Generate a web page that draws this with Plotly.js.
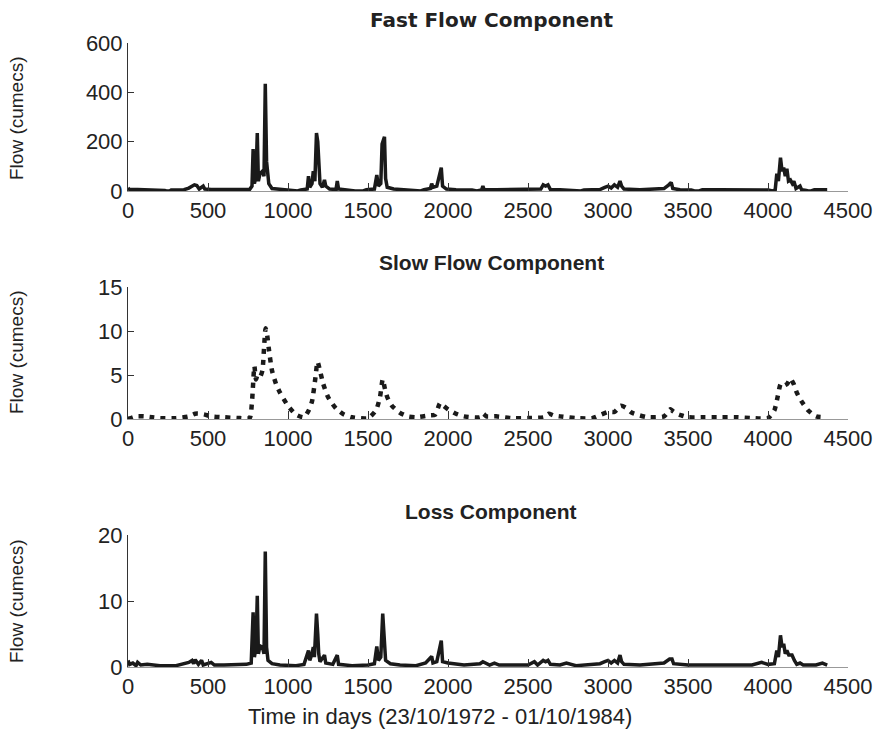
<!DOCTYPE html>
<html>
<head>
<meta charset="utf-8">
<script src="https://cdn.plot.ly/plotly-3.0.1.min.js"></script>
<style>html,body{margin:0;padding:0;background:#fff;}#chart{width:878px;height:732px;}</style>
</head>
<body>
<div id="chart"></div>
<script>
// ---- data ----
const fastDays = [0,10,60,120,200,230,240,260,270,350,380,400,415,430,445,470,480,520,600,700,760,775,782,790,800,808,815,825,840,850,858,866,872,880,900,950,1000,1030,1060,1080,1120,1128,1136,1150,1158,1168,1178,1186,1192,1200,1215,1228,1236,1260,1300,1308,1316,1350,1400,1420,1470,1490,1540,1555,1565,1580,1588,1596,1603,1610,1620,1660,1720,1780,1800,1830,1850,1890,1898,1906,1930,1958,1966,1990,2050,2150,2180,2210,2218,2226,2300,2400,2500,2580,2595,2610,2625,2640,2700,2780,2800,2830,2850,2950,2980,3000,3020,3040,3060,3075,3085,3100,3200,3300,3350,3380,3395,3405,3450,3520,3540,3570,3590,3700,3800,3900,4000,4030,4045,4055,4065,4078,4088,4098,4108,4118,4128,4140,4152,4162,4175,4200,4210,4240,4250,4270,4290,4370];
const fastFlow = [12,6,6,5,5,2,0,0,4,5,12,20,25,22,8,20,8,6,5,5,6,20,170,30,60,235,40,70,80,60,435,120,90,30,10,6,4,0,0,4,8,60,15,30,80,40,235,200,120,30,15,45,20,8,6,40,8,5,4,0,0,5,8,65,20,30,190,210,220,50,15,8,5,2,0,0,5,10,30,15,20,95,20,8,5,4,0,4,20,5,5,5,5,8,25,20,25,6,5,2,0,0,4,6,15,20,12,25,15,40,20,8,5,6,10,25,35,10,5,4,0,0,5,5,5,5,4,0,5,70,40,135,80,95,60,90,40,45,30,40,10,20,5,2,0,0,5,5];

const slowDays = [0,50,100,150,200,300,380,420,450,480,520,600,700,760,775,790,800,810,825,840,850,860,870,880,900,925,950,1000,1050,1100,1130,1150,1170,1185,1200,1220,1250,1300,1350,1400,1500,1550,1575,1592,1605,1620,1650,1700,1750,1800,1880,1920,1950,1965,2000,2050,2100,2200,2220,2240,2300,2400,2500,2600,2630,2660,2700,2800,2900,3000,3040,3080,3110,3150,3200,3250,3350,3390,3405,3430,3460,3500,3600,3700,3800,3900,4000,4040,4060,4080,4100,4120,4140,4160,4180,4210,4250,4300,4360];
const slowFlow = [0,0.3,0.3,0.2,0.1,0.1,0.3,0.6,0.6,0.5,0.3,0.2,0.1,0.1,2,6,4.5,5,4.8,5.5,8,10.3,9.5,8,5.5,4,3,1.5,0.5,0.2,1,2,4.5,6.5,5.5,4,2.5,1.2,0.5,0.2,0.1,1,2.5,4.5,3.5,2.5,1.5,0.7,0.3,0.2,0.4,0.5,1.8,1.6,1.1,0.6,0.3,0.2,0.6,0.3,0.3,0.1,0.1,0.2,0.6,0.4,0.3,0.1,0.1,0.8,0.8,1.5,1.3,0.7,0.4,0.2,0.3,1.1,0.9,0.6,0.4,0.2,0.2,0.2,0.2,0.1,0.1,1,2.5,4,3.8,4,4.6,4,3,2,1,0.3,0.2];

const lossDays = [0,10,30,50,60,80,120,170,200,300,340,380,400,410,420,440,460,470,520,540,600,700,740,770,782,790,800,808,815,825,840,850,858,866,875,900,950,1050,1100,1128,1136,1150,1158,1165,1178,1186,1192,1200,1228,1236,1280,1308,1316,1400,1500,1540,1555,1565,1580,1592,1600,1610,1640,1700,1800,1860,1898,1906,1930,1958,1966,2000,2100,2200,2218,2260,2290,2320,2400,2500,2540,2560,2595,2610,2625,2640,2700,2740,2800,2950,2980,3000,3020,3040,3060,3075,3085,3100,3200,3300,3350,3385,3400,3410,3500,3600,3700,3800,3900,3960,4000,4040,4055,4065,4078,4088,4098,4108,4118,4130,4150,4165,4180,4200,4220,4300,4340,4370];
const lossFlow = [1.0,0.4,0.6,0.2,0.7,0.3,0.4,0.3,0.2,0.2,0.5,0.7,1.0,0.5,1.1,0.4,1.0,0.3,0.7,0.3,0.3,0.3,0.4,0.6,8.3,1.5,3,10.8,2,3.2,3,2,17.5,3,1,0.5,0.3,0.2,0.4,2.5,1,2,3,1.5,8.1,5,2,0.8,1.8,0.6,0.4,1.8,0.4,0.2,0.3,0.5,3.1,1,1.5,8.1,5,1,0.5,0.3,0.2,0.6,1.6,0.6,0.8,4,0.8,0.6,0.3,0.5,0.8,0.3,0.6,0.3,0.3,0.3,0.8,0.3,1.0,0.8,1.0,0.4,0.3,0.6,0.2,0.5,0.8,1.0,0.6,1.0,0.6,1.8,0.8,0.4,0.3,0.5,0.6,1.2,1.2,0.5,0.3,0.3,0.3,0.3,0.3,0.7,0.4,0.5,2.5,1.5,4.8,3,3.5,2,2.5,1.8,1.8,1,0.4,0.6,0.3,0.3,0.6,0.3];

const xTicks = [0,500,1000,1500,2000,2500,3000,3500,4000,4500];
const titles = ["Fast Flow Component","Slow Flow Component","Loss Component"];
const yTitle = "Flow (cumecs)";
const xTitle = "Time in days (23/10/1972 - 01/10/1984)";

// ---- layout helpers ----
const H = 732;
const py = p => 1 - p / H;
const ink = '#1a1a1a';
const tickFont = {family: 'Liberation Sans, Arial, sans-serif', size: 22, color: '#222'};

function xa(anchor) {
  return {
    domain: [128/878, 848/878], range: [0, 4500], anchor: anchor,
    tickmode: 'array', tickvals: xTicks, ticks: 'inside', ticklen: 8, tickwidth: 1, tickcolor: '#333',
    showline: true, linecolor: '#999', linewidth: 1, showgrid: false, zeroline: false,
    tickfont: tickFont, fixedrange: true
  };
}
function ya(anchor, dom, rng, tv) {
  return {
    domain: dom, range: rng, anchor: anchor,
    tickmode: 'array', tickvals: tv, ticks: 'inside', ticklen: 6, tickwidth: 1, tickcolor: '#333',
    showline: true, linecolor: '#333', linewidth: 1, showgrid: false, zeroline: false,
    tickfont: tickFont, fixedrange: true
  };
}

const traces = [
  {x: fastDays, y: fastFlow, xaxis: 'x', yaxis: 'y', mode: 'lines', line: {color: ink, width: 3.5}},
  {x: slowDays, y: slowFlow, xaxis: 'x2', yaxis: 'y2', mode: 'lines', line: {color: ink, width: 4.5, dash: '5px,6px', shape: 'spline', smoothing: 0.6}},
  {x: lossDays, y: lossFlow, xaxis: 'x3', yaxis: 'y3', mode: 'lines', line: {color: ink, width: 3.5}}
];

const titleFont = {family: 'Liberation Sans, Arial, sans-serif', size: 21, color: '#222', weight: 'bold'};
const yTitleFont = {family: 'Liberation Sans, Arial, sans-serif', size: 19, color: '#222'};

const annotations = [
  {text: titles[0], x: 491/878, y: py(20), xref: 'paper', yref: 'paper', showarrow: false, font: Object.assign({}, titleFont, {family: 'DejaVu Sans, sans-serif', size: 20}), xanchor: 'center', yanchor: 'middle'},
  {text: titles[1], x: 491/878, y: py(262), xref: 'paper', yref: 'paper', showarrow: false, font: titleFont, xanchor: 'center', yanchor: 'middle'},
  {text: titles[2], x: 491/878, y: py(511), xref: 'paper', yref: 'paper', showarrow: false, font: titleFont, xanchor: 'center', yanchor: 'middle'},
  {text: yTitle, x: 16/878, y: py(118), xref: 'paper', yref: 'paper', showarrow: false, font: yTitleFont, textangle: -90, xanchor: 'center', yanchor: 'middle'},
  {text: yTitle, x: 16/878, y: py(352), xref: 'paper', yref: 'paper', showarrow: false, font: yTitleFont, textangle: -90, xanchor: 'center', yanchor: 'middle'},
  {text: yTitle, x: 16/878, y: py(601), xref: 'paper', yref: 'paper', showarrow: false, font: yTitleFont, textangle: -90, xanchor: 'center', yanchor: 'middle'},
  {text: xTitle, x: 440/878, y: py(716), xref: 'paper', yref: 'paper', showarrow: false, font: {family: 'Liberation Sans, Arial, sans-serif', size: 22, color: '#222'}, xanchor: 'center', yanchor: 'middle'}
];

const layout = {
  width: 878, height: 732,
  margin: {l: 0, r: 0, t: 0, b: 0},
  paper_bgcolor: '#fff', plot_bgcolor: '#fff',
  showlegend: false,
  xaxis: xa('y'), yaxis: ya('x', [py(191), py(43)], [0, 600], [0,200,400,600]),
  xaxis2: xa('y2'), yaxis2: ya('x2', [py(419), py(287)], [0, 15], [0,5,10,15]),
  xaxis3: xa('y3'), yaxis3: ya('x3', [py(667), py(535)], [0, 20], [0,10,20]),
  annotations: annotations
};

Plotly.newPlot('chart', traces, layout, {staticPlot: true, displayModeBar: false});
</script>
</body>
</html>
